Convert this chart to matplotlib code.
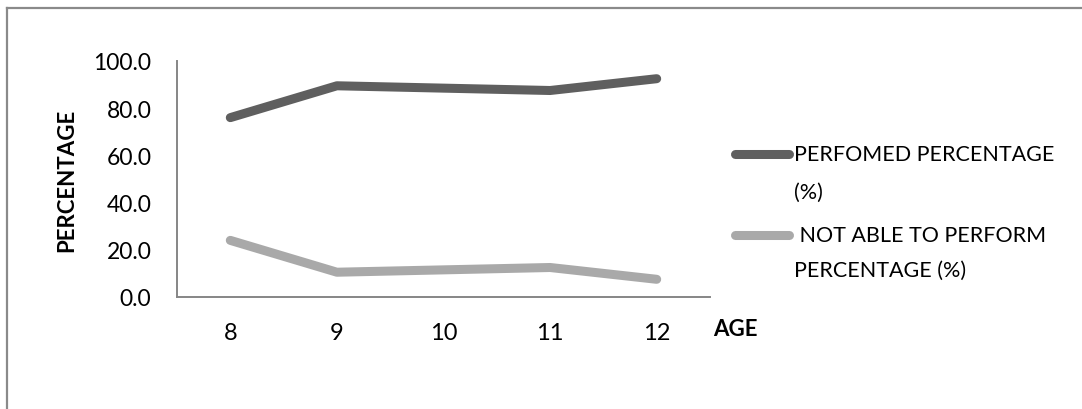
import matplotlib.pyplot as plt
from matplotlib.lines import Line2D

plt.rcParams['font.family'] = ['Lato', 'DejaVu Sans']

ages = ['8', '9', '10', '11', '12']
performed = [76.0, 89.5, 88.5, 87.5, 92.5]
not_able = [24.0, 10.5, 11.5, 12.5, 7.5]
yticks = [0, 20, 40, 60, 80, 100]
series_names = [['PERFOMED PERCENTAGE', '(%)'], [' NOT ABLE TO PERFORM', 'PERCENTAGE (%)']]
colors = ['#5f5f5f', '#a9a9a9']

W, H = 1082, 410
fig = plt.figure(figsize=(W / 100, H / 100), dpi=100)
ax = fig.add_axes([177 / W, 1 - 298 / H, (710 - 177) / W, (298 - 62) / H])

x = list(range(len(ages)))
for vals, c in zip([performed, not_able], colors):
    ax.plot(x, vals, color=c, lw=6.5, solid_capstyle='round', solid_joinstyle='round')

ax.set_xlim(-0.5, len(ages) - 0.5)
ax.set_ylim(0, 100)
ax.set_xticks(x)
ax.set_xticklabels(ages, fontsize=17)
ax.set_yticks(yticks)
ax.set_yticklabels([f'{v:.1f}' for v in yticks], fontsize=16.5)
ax.tick_params(length=0, colors='black')
ax.tick_params(axis='x', pad=18)
ax.tick_params(axis='y', pad=18.5)

for s in ['top', 'right']:
    ax.spines[s].set_visible(False)
for s in ['left', 'bottom']:
    ax.spines[s].set_color('#868686')
    ax.spines[s].set_linewidth(1.4)

fig.text(67 / W, 1 - 180 / H, 'PERCENTAGE', fontsize=16, fontweight='bold',
         rotation=90, ha='center', va='center')
fig.text(713 / W, 1 - 329 / H, 'AGE', fontsize=16, fontweight='bold',
         ha='left', va='center')

# legend drawn by hand so the handle sits on the first text line
legend_rows = [(155, 193), (236, 271)]
for (y1, y2), names, c in zip(legend_rows, series_names, colors):
    fig.add_artist(Line2D([735 / W, 789 / W], [1 - y1 / H, 1 - y1 / H], color=c, lw=6.5,
                          solid_capstyle='round', transform=fig.transFigure))
    fig.text(794 / W, 1 - y1 / H, names[0], fontsize=15.5, ha='left', va='center')
    fig.text(794 / W, 1 - y2 / H, names[1], fontsize=15.5, ha='left', va='center')

# chart frame (only top and left edges show in the reference)
fig.add_artist(Line2D([7 / W, 1], [1 - 9 / H, 1 - 9 / H], color='#8a8a8a', lw=1.6,
                      transform=fig.transFigure))
fig.add_artist(Line2D([7 / W, 7 / W], [0, 1 - 9 / H], color='#8a8a8a', lw=1.6,
                      transform=fig.transFigure))

fig.savefig('out.png', dpi=100)
